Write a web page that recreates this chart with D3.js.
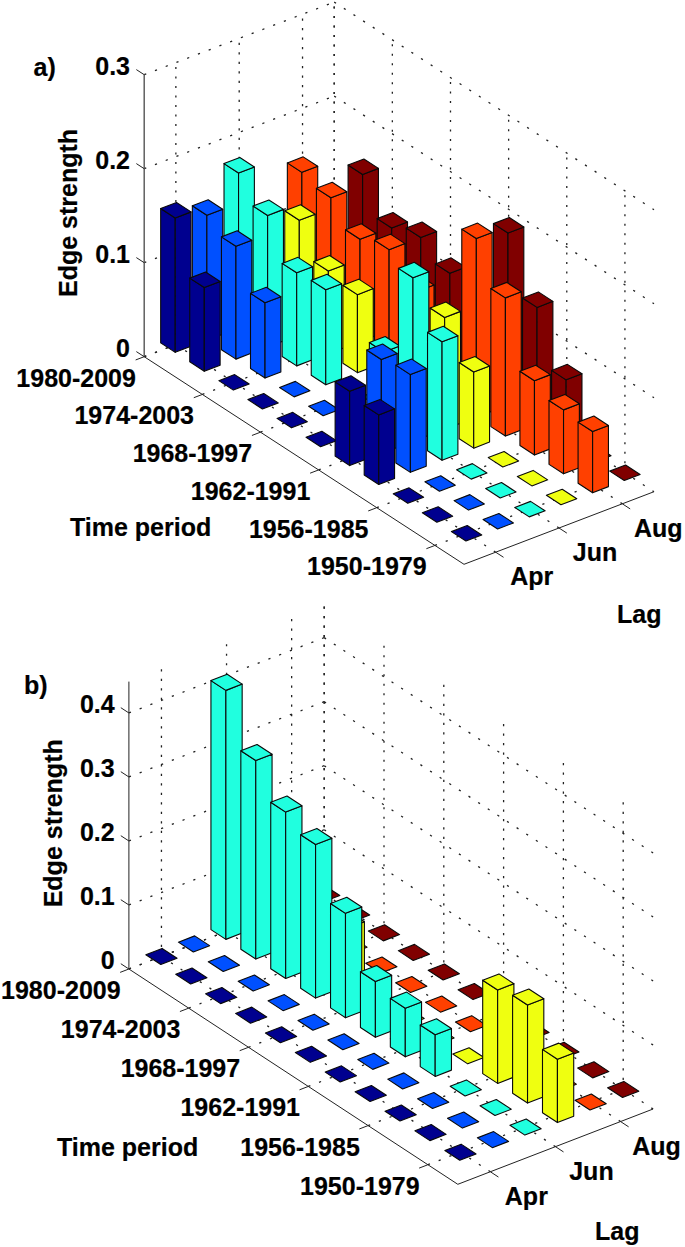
<!DOCTYPE html>
<html><head><meta charset="utf-8">
<script src="https://d3js.org/d3.v7.min.js"></script>
<style>html,body{margin:0;padding:0;background:#fff}svg{display:block}
text{font-family:"Liberation Sans",Arial,sans-serif;font-weight:700;fill:#000;stroke:#000;stroke-width:.2}</style>
</head><body><svg id="c" width="685" height="1247"></svg>
<script>
const timePeriods=["1950-1979","1953-1982","1956-1985","1959-1988","1962-1991","1965-1994","1968-1997","1971-2000","1974-2003","1977-2006","1980-2009"];
const lagColumns=["Mar","Apr","May","Jun","Jul","Aug"];
const lagTickIndex=[1,3,5];
const lagTickLabels=["Apr","Jun","Aug"];
const timeTickIndex=[1,3,5,7,9,11];
const lagColors=["#00008f","#0050ff","#20ffdf","#efff10","#ff4000","#800000"];
// rows run 1950-1979 ... 1980-2009; columns are the six lag bars
const valuesA=[
[0,0,0,0,.065,0],
[0,0,0,0,.068,0],
[0,0,0,0,.079,.067],
[.074,.104,.126,.081,.147,.124],
[.079,.100,.174,.119,.190,.183],
[0,0,.075,0,0,0],
[0,0,0,0,.094,.100],
[0,0,.101,.083,.118,.118],
[0,.080,.099,.088,.109,.108],
[.089,.120,.140,.122,.133,.145],
[.143,.133,.165,0,.140,0]];
const valuesB=[
[0,0,0,.099,0,0],
[0,0,0,.153,0,0],
[0,0,0,.146,0,0],
[0,0,.065,0,0,0],
[0,0,.076,0,0,0],
[0,0,.087,0,0,0],
[0,0,.163,0,0,0],
[0,0,.240,.090,0,0],
[0,0,.260,0,0,0],
[0,0,.310,0,0,0],
[0,0,.389,0,0,0]];
const zTicksA=[0,.1,.2,.3];
const zTicksB=[0,.1,.2,.3,.4];

const svg=d3.select("#c");
const FONT=25;

function panel(cfg){
  const g=svg.append("g");
  const rowT=d3.scaleLinear().domain([0,11]).range([0,1]);
  const colT=d3.scaleLinear().domain([0,6]).range([0,1]);
  const zY=d3.scaleLinear().domain([0,cfg.zMax]).range([0,cfg.zPx]);
  const P=(r,c,z=0)=>{
    const t=rowT(r),l=colT(c);
    return [cfg.F[0]+(cfg.A[0]-cfg.F[0])*t+(cfg.R[0]-cfg.F[0])*l,
            cfg.F[1]+(cfg.A[1]-cfg.F[1])*t+(cfg.R[1]-cfg.F[1])*l-zY(z)];
  };
  const line=d3.line();
  const dotted=(a,b,period=11.5)=>g.append("path").attr("d",line([a,b])).attr("fill","none")
     .attr("stroke","#222").attr("stroke-width",1.3).attr("stroke-dasharray",`2.2 ${period-2.2}`);
  const solid=(a,b,col="#222",w=1)=>g.append("path").attr("d",line([a,b])).attr("fill","none")
     .attr("stroke",col).attr("stroke-width",w);
  // walls
  cfg.zTicks.forEach(z=>{
    dotted(P(11,0,z),P(11,6,z)); dotted(P(11,6,z),P(0,6,z));
  });
  lagTickIndex.forEach(c=>{dotted(P(11,c,0),P(11,c,cfg.zMax),9.5); dotted(P(0,c,0),P(11,c,0));});
  timeTickIndex.forEach(r=>{dotted(P(r,6,0),P(r,6,cfg.zMax),9.5); dotted(P(r,0,0),P(r,6,0));});
  dotted(P(11,6,0),P(11,6,cfg.zMax),9.5);
  // axes
  solid(P(11,0,0),P(11,0,cfg.zMax),cfg.zAxisColor,cfg.zAxisWidth);
  solid(P(0,0,0),P(11,0,0)); solid(P(0,0,0),P(0,6,0));
  const tk=0.27;
  timeTickIndex.forEach(r=>solid(P(r,0),P(r,-tk)));
  lagTickIndex.forEach(c=>solid(P(0,c),P(-tk,c)));
  cfg.zTicks.forEach(z=>solid(P(11,0,z),P(11+tk,0,z)));
  // bars, far to near
  const bars=d3.cross(d3.range(cfg.values.length),d3.range(lagColumns.length))
    .map(([i,j])=>({r:i+1,c:j+1,v:cfg.values[i][j]}))
    .sort((a,b)=>d3.descending(a.r+a.c,b.r+b.c));
  const hw=0.25;
  const barG=g.selectAll("g.bar").data(bars).join("g").attr("class","bar")
    .attr("fill",d=>lagColors[d.c-1]).attr("stroke","#0a0a0a").attr("stroke-width",1.1).attr("stroke-linejoin","round");
  const poly=pts=>"M"+pts.map(p=>p.join(",")).join("L")+"Z";
  barG.filter(d=>d.v>0).append("path").attr("d",d=>poly([P(d.r+hw,d.c-hw,d.v),P(d.r-hw,d.c-hw,d.v),P(d.r-hw,d.c-hw,0),P(d.r+hw,d.c-hw,0)]));
  barG.filter(d=>d.v>0).append("path").attr("d",d=>poly([P(d.r-hw,d.c-hw,d.v),P(d.r-hw,d.c+hw,d.v),P(d.r-hw,d.c+hw,0),P(d.r-hw,d.c-hw,0)]));
  barG.append("path").attr("d",d=>poly([P(d.r-hw,d.c-hw,d.v),P(d.r-hw,d.c+hw,d.v),P(d.r+hw,d.c+hw,d.v),P(d.r+hw,d.c-hw,d.v)]));
  // text
  const label=(s,x,y,anchor)=>g.append("text").text(s).attr("text-anchor",anchor)
     .attr("font-size",FONT).attr("x",x).attr("y",y);
  cfg.zTicks.forEach(z=>{const p=P(11,0,z);label(z===0?"0":d3.format(".1f")(z),p[0]-14.2,p[1],"end");});
  timeTickIndex.forEach(r=>{const p=P(r,0);label(timePeriods[r-1],p[0]-8.3,p[1]+30,"end");});
  lagTickIndex.forEach((c,i)=>{const p=P(0,c);label(lagTickLabels[i],p[0]+36,p[1]+33,"middle");});
  label(cfg.tag,cfg.tagPos[0],cfg.tagPos[1],"start");
  label("Time period",cfg.timePos[0],cfg.timePos[1],"start");
  label("Lag",cfg.lagPos[0],cfg.lagPos[1],"start");
  g.append("text").text("Edge strength").attr("text-anchor","middle").attr("font-size",FONT)
    .attr("transform",`translate(${cfg.edgePos[0]},${cfg.edgePos[1]}) rotate(-90)`);
}
panel({values:valuesA,zTicks:zTicksA,zMax:.3,zPx:282,A:[144.2,356.7],F:[464,564.3],R:[654,491.7],
  zAxisColor:"#555",zAxisWidth:1.4,tag:"a)",tagPos:[33.6,76],timePos:[70,536],lagPos:[617,623],edgePos:[77,213]});
panel({values:valuesB,zTicks:zTicksB,zMax:.449,zPx:287.4,A:[128.9,969],F:[457.8,1184.3],R:[653.1,1109],
  zAxisColor:"#222",zAxisWidth:1,tag:"b)",tagPos:[24,694],timePos:[57,1156],lagPos:[595,1240],edgePos:[61.6,823.3]});
</script></body></html>
